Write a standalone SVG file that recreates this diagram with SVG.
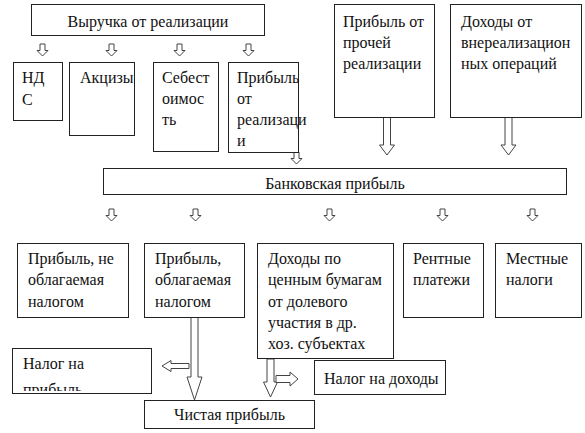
<svg xmlns="http://www.w3.org/2000/svg" width="585" height="433" viewBox="0 0 585 433">
<defs>
<style>
.b{fill:#fff;stroke:#222;stroke-width:1}
.t{font-family:'Liberation Serif','Times New Roman',serif;font-size:16px;fill:#111}
.c{text-anchor:middle}
.a{fill:#fff;stroke:#444;stroke-width:1}
</style>
<clipPath id="clipNp"><rect x="12" y="348" width="139" height="43"/></clipPath>
</defs>
<rect width="585" height="433" fill="#fff"/>

<g id="connectors">
<polygon class="a" points="40,44 45,44 45,50.5 48,50.5 42.5,56 37,50.5 40,50.5"/>
<polygon class="a" points="109,44 114,44 114,50.5 117,50.5 111.5,56 106,50.5 109,50.5"/>
<polygon class="a" points="177,44 182,44 182,50.5 185,50.5 179.5,56 174,50.5 177,50.5"/>
<polygon class="a" points="246,44 251,44 251,50.5 254,50.5 248.5,56 243,50.5 246,50.5"/>
<polygon class="a" points="294,152 299,152 299,158.5 302,158.5 296.5,164 291,158.5 294,158.5"/>
<polygon class="a" points="383.5,117 390.5,117 390.5,145 394.5,145 387,155 379.5,145 383.5,145"/>
<polygon class="a" points="505,117 512,117 512,145 516,145 508.5,155 501,145 505,145"/>
<polygon class="a" points="109,209 114,209 114,215.5 117,215.5 111.5,221 106,215.5 109,215.5"/>
<polygon class="a" points="193,209 198,209 198,215.5 201,215.5 195.5,221 190,215.5 193,215.5"/>
<polygon class="a" points="327,209 332,209 332,215.5 335,215.5 329.5,221 324,215.5 327,215.5"/>
<polygon class="a" points="440,209 445,209 445,215.5 448,215.5 442.5,221 437,215.5 440,215.5"/>
<polygon class="a" points="530,209 535,209 535,215.5 538,215.5 532.5,221 527,215.5 530,215.5"/>
<polygon class="a" points="191,317 198,317 198,377 202,377 194.5,400 187,377 191,377"/>
<polygon class="a" points="189,363.5 171,363.5 171,360.5 162,366 171,371.5 171,368.5 189,368.5"/>
<polygon class="a" points="267,359 274,359 274,382 277.5,382 270.5,397 263.5,382 267,382"/>
<polygon class="a" points="276,375.5 290,375.5 290,372 298,379 290,386 290,382.5 276,382.5"/>
</g>

<g id="n-vyruchka">
<rect class="b" x="31.5" y="4.5" width="233" height="31"/>
<text class="t c" x="148" y="27">Выручка от реализации</text>
</g>

<g id="n-nds">
<rect class="b" x="13.5" y="62.5" width="49" height="58"/>
<text class="t" x="22" y="83">НД</text>
<text class="t" x="22" y="105">С</text>
</g>

<g id="n-akcizy">
<rect class="b" x="69.5" y="62.5" width="65" height="73"/>
<text class="t" x="80" y="83">Акцизы</text>
</g>

<g id="n-sebest">
<rect class="b" x="153.5" y="62.5" width="65" height="89"/>
<text class="t" x="162" y="83">Себест</text>
<text class="t" x="162" y="104">оимос</text>
<text class="t" x="162" y="125">ть</text>
</g>

<g id="n-pribyl-real">
<rect class="b" x="228.5" y="62.5" width="70" height="90"/>
<text class="t" x="237" y="83">Прибыль</text>
<text class="t" x="237" y="104">от</text>
<text class="t" x="237" y="125">реализаци</text>
<text class="t" x="237" y="146">и</text>
</g>

<g id="n-pribyl-proch">
<rect class="b" x="334.5" y="4.5" width="100" height="113"/>
<text class="t" x="343" y="27">Прибыль от</text>
<text class="t" x="343" y="48">прочей</text>
<text class="t" x="343" y="69">реализации</text>
</g>

<g id="n-dohody-vnereal">
<rect class="b" x="450.5" y="4.5" width="131" height="113"/>
<text class="t" x="461" y="27">Доходы от</text>
<text class="t" x="461" y="48">внереализацион</text>
<text class="t" x="461" y="69">ных операций</text>
</g>

<g id="n-bank">
<rect class="b" x="103.5" y="168.5" width="463" height="26"/>
<text class="t c" x="335" y="189">Банковская прибыль</text>
</g>

<g id="n-ne-oblag">
<rect class="b" x="17.5" y="243.5" width="111" height="74"/>
<text class="t" x="28" y="264">Прибыль, не</text>
<text class="t" x="28" y="285">облагаемая</text>
<text class="t" x="28" y="307">налогом</text>
</g>

<g id="n-oblag">
<rect class="b" x="144.5" y="243.5" width="100" height="74"/>
<text class="t" x="155" y="264">Прибыль,</text>
<text class="t" x="155" y="285">облагаемая</text>
<text class="t" x="155" y="307">налогом</text>
</g>

<g id="n-cennye">
<rect class="b" x="257.5" y="243.5" width="136" height="115"/>
<text class="t" x="268" y="264">Доходы по</text>
<text class="t" x="268" y="285">ценным бумагам</text>
<text class="t" x="268" y="307">от долевого</text>
<text class="t" x="268" y="328">участия в др.</text>
<text class="t" x="268" y="349">хоз. субъектах</text>
</g>

<g id="n-rent">
<rect class="b" x="403.5" y="243.5" width="80" height="74"/>
<text class="t" x="413" y="264">Рентные</text>
<text class="t" x="413" y="285">платежи</text>
</g>

<g id="n-mestnye">
<rect class="b" x="495.5" y="243.5" width="86" height="74"/>
<text class="t" x="506" y="264">Местные</text>
<text class="t" x="506" y="285">налоги</text>
</g>

<g id="n-nalog-pribyl">
<rect class="b" x="12.5" y="348.5" width="139" height="45"/>
<g clip-path="url(#clipNp)">
<text class="t" x="23" y="369">Налог на</text>
<text class="t" x="23" y="395">прибыль</text>
</g>
</g>

<g id="n-nalog-dohody">
<rect class="b" x="314.5" y="360.5" width="131" height="34"/>
<text class="t" x="324" y="384">Налог на доходы</text>
</g>

<g id="n-chistaya">
<rect class="b" x="144.5" y="400.5" width="170" height="28"/>
<text class="t c" x="229.5" y="420">Чистая прибыль</text>
</g>
</svg>
